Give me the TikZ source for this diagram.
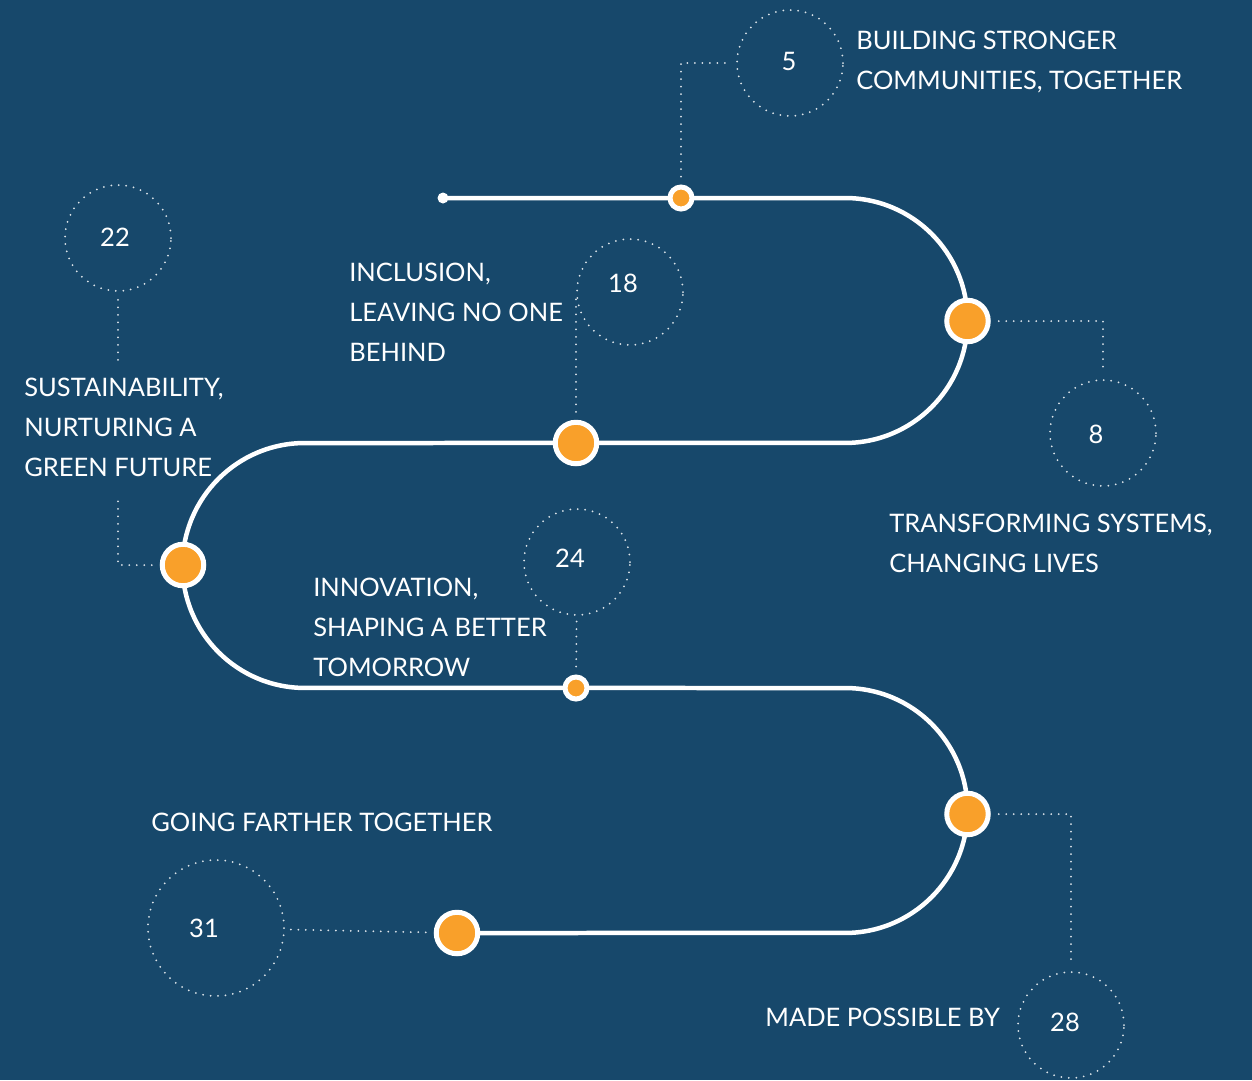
\documentclass[tikz,border=0pt]{standalone}
\usepackage{fontspec}
\setmainfont{Lato}
\definecolor{bgblue}{HTML}{17486B}
\definecolor{dotorange}{HTML}{F9A02A}

\begin{document}
\begin{tikzpicture}[x=0.02cm, y=-0.02cm,
    road/.style={white, line width=0.09cm},
    bigdot/.style={circle, fill=dotorange, draw=white, line width=0.1cm, minimum size=0.83cm, inner sep=0pt},
    smalldot/.style={circle, fill=dotorange, draw=white, line width=0.1cm, minimum size=0.44cm, inner sep=0pt},
    numring/.style={circle, draw=white!85!bgblue, line width=0.04cm, dash pattern=on 0pt off 0.15cm, line cap=round, minimum size=2.12cm, inner sep=0pt},
    numtext/.style={inner sep=0pt, text=white, font=\fontsize{14.5}{17}\selectfont},
    leader/.style={white!85!bgblue, line width=0.04cm, dash pattern=on 0pt off 0.15cm, line cap=round, shorten <=0.16cm, shorten >=0.1cm},
    caption/.style={anchor=north west, inner sep=0pt, align=left, text=white, font=\fontsize{14.5}{22.76}\selectfont}]

      \fill[bgblue] (0,0) rectangle (1252,1080);
      \useasboundingbox (0,0) rectangle (1252,1080);

      % the road
      \draw[road] (443,198) -- (845,198) arc[start angle=90, end angle=-90, radius=2.45cm]
        -- (305,443) arc[start angle=90, end angle=270, radius=2.45cm]
        -- (845,688) arc[start angle=90, end angle=-90, radius=2.45cm]
        -- (457,933);
      \fill[white] (443,198) circle (0.11cm);

      % stops on the road
      \node[smalldot] (mA) at (681,198) {};
      \node[bigdot] (mB) at (967.5,321) {};
      \node[bigdot] (mC) at (576,443) {};
      \node[bigdot] (mD) at (183,565) {};
      \node[smalldot] (mE) at (576,688) {};
      \node[bigdot] (mF) at (967.5,814) {};
      \node[bigdot] (mG) at (457,933) {};

      % page numbers
      \node[numring] (c5) at (790,63) {};
      \node[numring] (c8) at (1103,433) {};
      \node[numring] (c18) at (630,292) {};
      \node[numring] (c22) at (118,238) {};
      \node[numring] (c24) at (577,562) {};
      \node[numring] (c28) at (1071,1025) {};
      \node[numring, minimum size=2.72cm] (c31) at (216,928) {};

      \node[numtext] (n5) at (789,61) {5};
      \node[numtext] (n8) at (1096,434) {8};
      \node[numtext] (n18) at (623,283) {18};
      \node[numtext] (n22) at (115,237) {22};
      \node[numtext] (n24) at (570,558) {24};
      \node[numtext] (n28) at (1065,1022) {28};
      \node[numtext] (n31) at (204,928) {31};

      % leaders
      \coordinate (k22a) at (118,368);
      \coordinate (k22b) at (118,493);
      \draw[leader] (mA) |- (c5);
      \draw[leader] (mB) -| (c8);
      \draw[leader] (mC) -- (c18.west);
      \draw[leader] (c22) -- (k22a);
      \draw[leader] (mD) -| (k22b);
      \draw[leader] (mE) -- (c24);
      \draw[leader] (mF) -| (c28);
      \draw[leader] (mG) -- (c31);

      % captions
      \node[caption] (t5) at (856,31) {BUILDING STRONGER\\COMMUNITIES, TOGETHER};
      \node[caption] (t18) at (349,263) {INCLUSION,\\LEAVING NO ONE\\BEHIND};
      \node[caption] (t22) at (24,378) {SUSTAINABILITY,\\NURTURING A\\GREEN FUTURE};
      \node[caption] (t8) at (889,514) {TRANSFORMING SYSTEMS,\\CHANGING LIVES};
      \node[caption] (t24) at (313,578) {INNOVATION,\\SHAPING A BETTER\\TOMORROW};
      \node[caption] (t31) at (151,813) {GOING FARTHER TOGETHER};
      \node[caption] (t28) at (765,1008) {MADE POSSIBLE BY};
    \end{tikzpicture}
\end{document}
